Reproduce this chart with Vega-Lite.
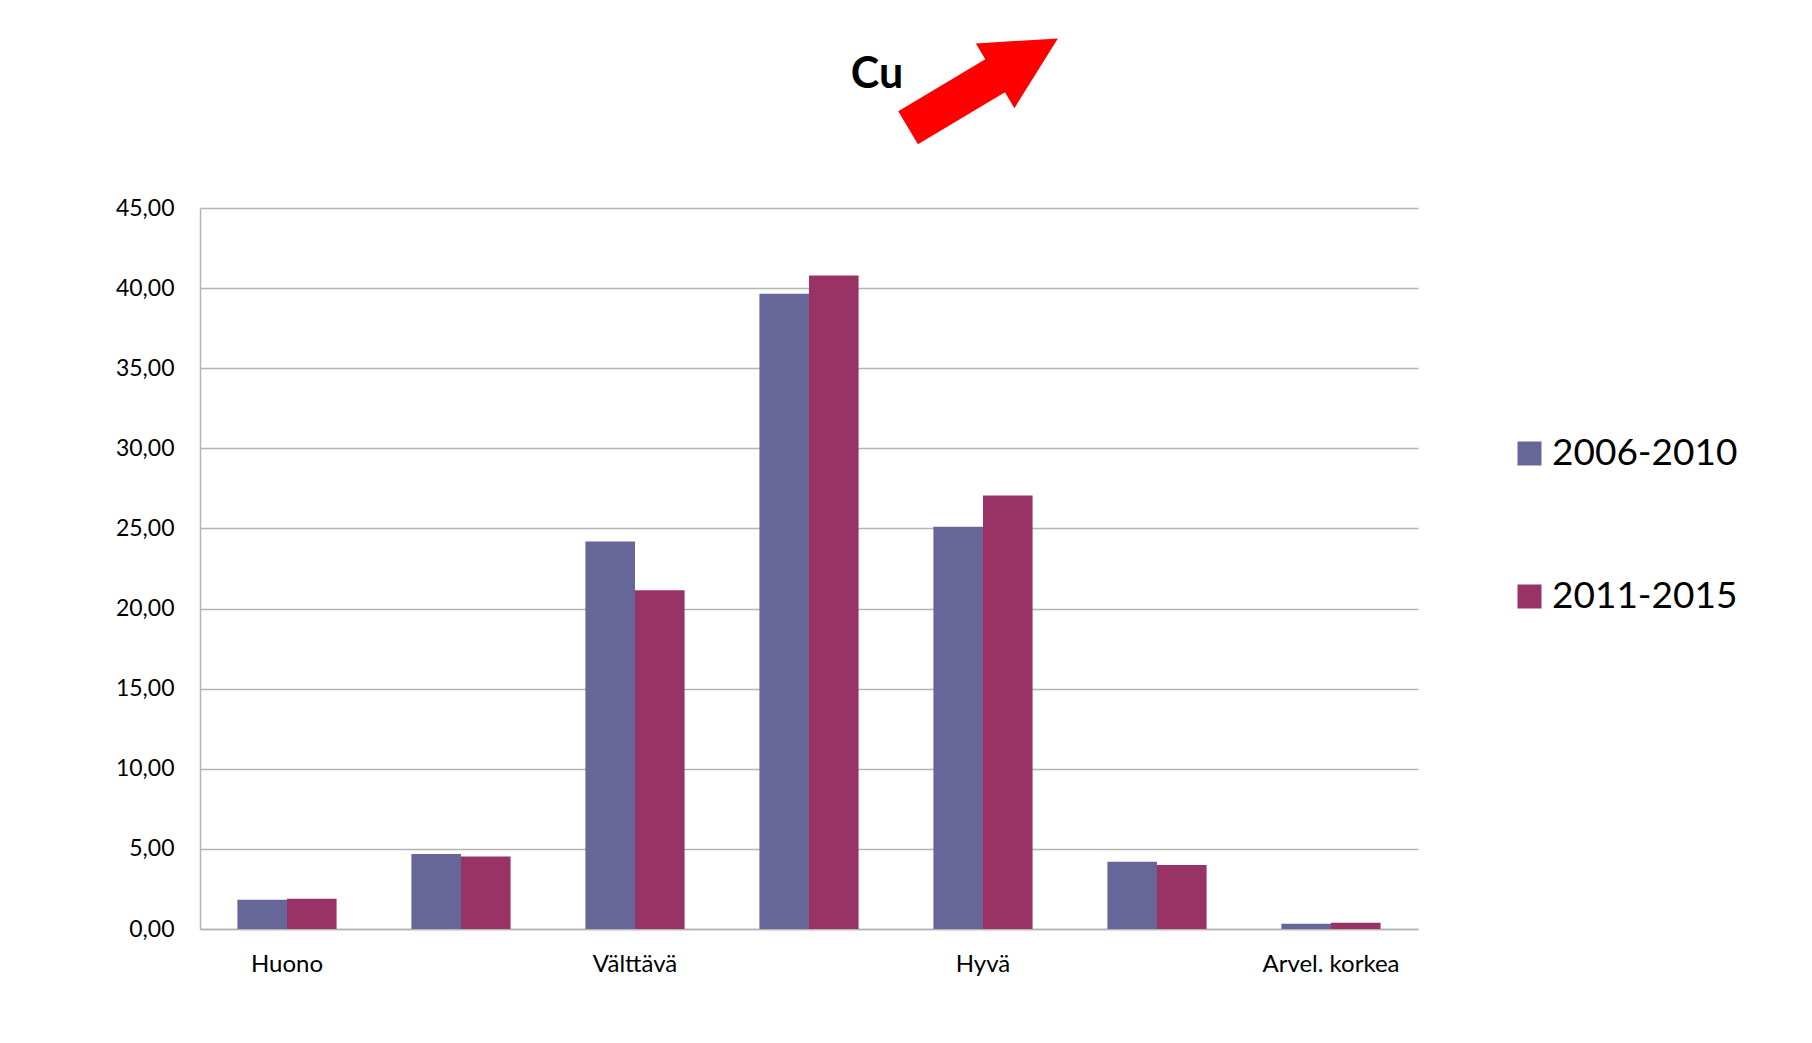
{
  "$schema": "https://vega.github.io/schema/vega-lite/v6.json",
  "autosize": {"type": "none"},
  "padding": {"left": 200, "top": 208, "right": 394, "bottom": 114},
  "width": 1218,
  "height": 721,
  "background": "white",
  "title": {
    "text": "Cu",
    "font": "Lato",
    "fontSize": 43,
    "fontWeight": "bold",
    "color": "black",
    "anchor": "middle",
    "frame": "group",
    "dx": 68,
    "baseline": "alphabetic",
    "offset": -93
  },
  "config": {
    "view": {"stroke": null},
    "font": "Lato"
  },
  "layer": [
    {
      "data": {
        "values": [
          {"luokka": "Huono", "jakso": "2006-2010", "arvo": 1.83},
          {"luokka": "Huono", "jakso": "2011-2015", "arvo": 1.89},
          {"luokka": "Huononlainen", "jakso": "2006-2010", "arvo": 4.68},
          {"luokka": "Huononlainen", "jakso": "2011-2015", "arvo": 4.53},
          {"luokka": "Välttävä", "jakso": "2006-2010", "arvo": 24.19},
          {"luokka": "Välttävä", "jakso": "2011-2015", "arvo": 21.14},
          {"luokka": "Tyydyttävä", "jakso": "2006-2010", "arvo": 39.65},
          {"luokka": "Tyydyttävä", "jakso": "2011-2015", "arvo": 40.79},
          {"luokka": "Hyvä", "jakso": "2006-2010", "arvo": 25.1},
          {"luokka": "Hyvä", "jakso": "2011-2015", "arvo": 27.06},
          {"luokka": "Korkea", "jakso": "2006-2010", "arvo": 4.2},
          {"luokka": "Korkea", "jakso": "2011-2015", "arvo": 3.99},
          {"luokka": "Arvel. korkea", "jakso": "2006-2010", "arvo": 0.33},
          {"luokka": "Arvel. korkea", "jakso": "2011-2015", "arvo": 0.39}
        ]
      },
      "mark": {"type": "bar"},
      "encoding": {
        "x": {
          "field": "luokka",
          "type": "nominal",
          "sort": null,
          "scale": {"paddingInner": 0.43, "paddingOuter": 0.215},
          "axis": {
            "title": null,
            "labelAngle": 0,
            "labelFontSize": 24,
            "labelColor": "black",
            "labelPadding": 23,
            "ticks": false,
            "domainColor": "#b4b4b4",
            "domainWidth": 1.5,
            "labelExpr": "indexof(['Huono','Välttävä','Hyvä','Arvel. korkea'], datum.value) >= 0 ? datum.label : ''"
          }
        },
        "xOffset": {"field": "jakso", "type": "nominal", "scale": {"paddingInner": 0, "paddingOuter": 0}},
        "y": {
          "field": "arvo",
          "type": "quantitative",
          "scale": {"domain": [0, 45], "nice": false},
          "axis": {
            "title": null,
            "values": [0, 5, 10, 15, 20, 25, 30, 35, 40, 45],
            "labelExpr": "replace(format(datum.value, '.2f'), '.', ',')",
            "labelFontSize": 23,
            "labelColor": "black",
            "labelPadding": 26,
            "ticks": false,
            "domainColor": "#b4b4b4",
            "domainWidth": 1.5,
            "gridColor": "#b4b4b4",
            "gridWidth": 1.4
          }
        },
        "color": {
          "field": "jakso",
          "type": "nominal",
          "scale": {"domain": ["2006-2010", "2011-2015"], "range": ["#666699", "#993366"]},
          "legend": {
            "title": null,
            "orient": "none",
            "legendX": 1311,
            "legendY": 227,
            "padding": 0,
            "symbolType": "square",
            "symbolSize": 576,
            "symbolStrokeWidth": 0,
            "symbolOpacity": 1,
            "labelFontSize": 37,
            "labelColor": "black",
            "labelOffset": 4,
            "rowPadding": 105,
            "labelLimit": 400
          }
        }
      }
    },
    {
      "data": {"values": [{"luokka": "Hyvä", "arvo": 52.8}]},
      "mark": {
        "type": "point",
        "shape": "M -1 -0.22 L 0.162 -0.22 L 0.162 -0.432 L 1 0 L 0.162 0.432 L 0.162 0.22 L -1 0.22 Z",
        "size": 30415,
        "angle": 329.2,
        "filled": true,
        "color": "#ff0000",
        "opacity": 1,
        "strokeWidth": 0
      },
      "encoding": {
        "x": {"field": "luokka", "type": "nominal", "sort": null},
        "y": {"field": "arvo", "type": "quantitative"}
      }
    }
  ]
}
